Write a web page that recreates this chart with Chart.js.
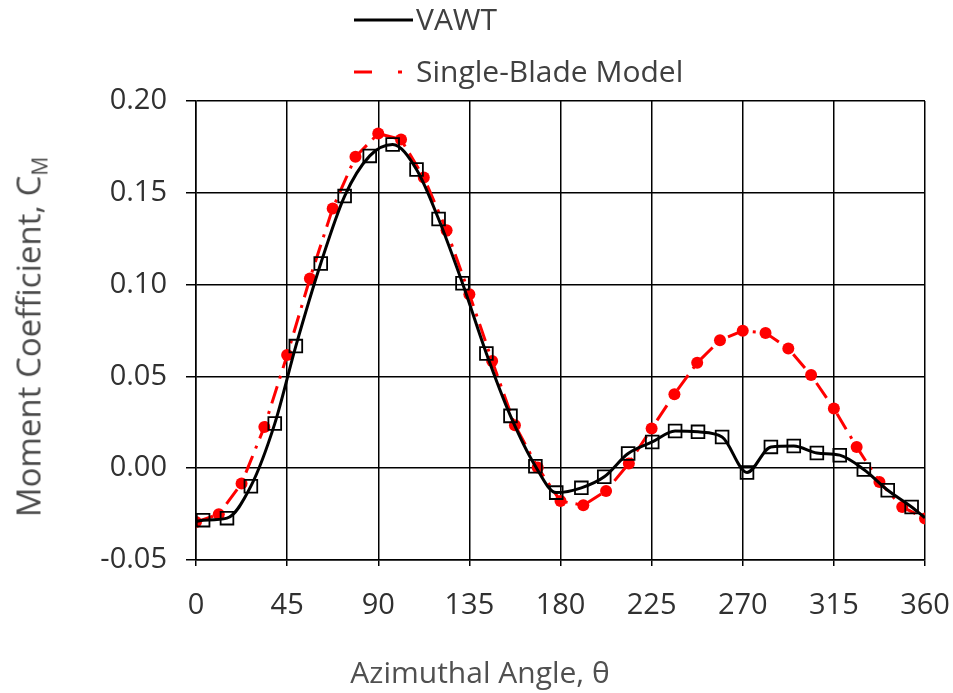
<!DOCTYPE html>
<html>
<head>
<meta charset="utf-8">
<script src="https://cdn.jsdelivr.net/npm/chart.js@4"></script>
<style>
  body { margin: 0; background: #fff; }
  #wrap { position: relative; width: 953px; height: 693px; font-family: "Open Sans", sans-serif; }
  .lbl { position: absolute; white-space: nowrap; line-height: 1; }
  #ytitle { left: 28px; top: 337px; font-size: 33px; color: #4a4a4a; transform: translate(-50%, -50%) rotate(-90deg); }
  #ytitle sub { font-size: 21px; vertical-align: -7px; line-height: 0; }
  #xtitle { left: 480px; top: 672px; font-size: 30px; color: #505050; transform: translate(-50%, -50%); }
  .leg { position: absolute; font-size: 30px; line-height: 1; color: #404040; white-space: nowrap; }
</style>
</head>
<body>
<div id="wrap">
  <canvas id="momentChart" width="953" height="693"></canvas>
  <svg style="position:absolute;left:0;top:0" width="953" height="100">
    <line x1="354" y1="20" x2="413" y2="20" stroke="#000" stroke-width="3"/>
    <line x1="354" y1="72" x2="372" y2="72" stroke="#ff0000" stroke-width="3"/>
    <line x1="398" y1="72" x2="402" y2="72" stroke="#ff0000" stroke-width="3"/>
  </svg>
  <div class="leg" style="left:416px; top:4px;">VAWT</div>
  <div class="leg" style="left:416px; top:56px;">Single-Blade Model</div>
  <div class="lbl" id="ytitle">Moment Coefficient, C<sub>M</sub></div>
  <div class="lbl" id="xtitle">Azimuthal Angle, θ</div>
</div>
<script>
// VAWT (black line, square markers); first and last points are line ends only
const vawtAngles = [0, 3.5, 15.3, 27.1, 38.9, 49.3, 61.6, 73.4, 85.8, 97.1, 108.9, 119.8, 131.6, 143.4, 155.3, 167.6,
    177.9, 190.3, 201.6, 213.4, 225.3, 236.6, 247.9, 259.8, 272.1, 283.9, 295.2, 306.6, 317.9, 329.8, 341.6, 353.4, 360];
const vawtCm = [-0.029, -0.0283, -0.0272, -0.0098, 0.0243, 0.0665, 0.1115, 0.1482, 0.1701, 0.1763, 0.1627, 0.1357, 0.1007,
    0.0625, 0.0285, 0.0011, -0.0133, -0.0107, -0.0047, 0.0080, 0.0143, 0.0203, 0.0198, 0.0170, -0.0023, 0.0116, 0.0121,
    0.0083, 0.0071, -0.0007, -0.0120, -0.0211, -0.027];

// Single-Blade Model (red dash-dot, circles)
const modelAngles = [0, 11.25, 22.5, 33.75, 45, 56.25, 67.5, 78.75, 90, 101.25, 112.5, 123.75, 135, 146.25, 157.5, 168.75,
    180, 191.25, 202.5, 213.75, 225, 236.25, 247.5, 258.75, 270, 281.25, 292.5, 303.75, 315, 326.25, 337.5, 348.75, 360];
const modelCm = [-0.0293, -0.0251, -0.0083, 0.0225, 0.0616, 0.1033, 0.1415, 0.1696, 0.1823, 0.1790, 0.1583, 0.1296, 0.0948,
    0.0584, 0.0234, 0.0004, -0.0179, -0.0202, -0.0124, 0.0026, 0.0216, 0.0403, 0.0574, 0.0697, 0.0748, 0.0737, 0.0652,
    0.0507, 0.0325, 0.0116, -0.0075, -0.0211, -0.0274];

const xTicks = [0, 45, 90, 135, 180, 225, 270, 315, 360];
const yTicks = [-0.05, 0.00, 0.05, 0.10, 0.15, 0.20];

const vawtPoints = vawtAngles.map((a, i) => ({ x: a, y: vawtCm[i] }));
const modelPoints = modelAngles.map((a, i) => ({ x: a, y: modelCm[i] }));
const vawtRadius = vawtAngles.map((a, i) => (i === 0 || i === vawtAngles.length - 1) ? 0 : 9);

const ctx = document.getElementById('momentChart').getContext('2d');
new Chart(ctx, {
    type: 'scatter',
    data: {
        datasets: [{
            label: 'VAWT',
            data: vawtPoints,
            showLine: true,
            borderColor: '#000',
            borderWidth: 3,
            cubicInterpolationMode: 'monotone',
            pointStyle: 'rect',
            pointRadius: vawtRadius,
            pointBorderColor: '#000',
            pointBorderWidth: 1.8,
            pointBackgroundColor: 'rgba(255,255,255,0)'
        }, {
            label: 'Single-Blade Model',
            data: modelPoints,
            showLine: true,
            borderColor: '#ff0000',
            borderWidth: 3,
            borderDash: [18, 8, 3, 8],
            tension: 0,
            pointStyle: 'circle',
            pointRadius: 6,
            pointBorderWidth: 0,
            pointBackgroundColor: '#ff0000'
        }]
    },
    options: {
        responsive: false,
        animation: false,
        devicePixelRatio: 1,
        layout: { padding: { top: 101, right: 28, left: 0, bottom: 0 } },
        scales: {
            x: {
                type: 'linear',
                min: 0,
                max: 360,
                afterBuildTicks: (scale) => { scale.ticks = xTicks.map(v => ({ value: v })); },
                afterFit: (scale) => {
                    scale.height = 133;
                    scale.paddingLeft = 0;
                    scale.paddingRight = 0;
                },
                ticks: {
                    color: '#303030',
                    padding: 22,
                    font: { family: 'Open Sans', size: 29 },
                    maxRotation: 0
                },
                grid: { color: '#000', lineWidth: 1.5, tickLength: 6 },
                border: { color: '#000', width: 1.5 }
            },
            y: {
                min: -0.05,
                max: 0.20,
                afterBuildTicks: (scale) => { scale.ticks = yTicks.map(v => ({ value: v })); },
                afterFit: (scale) => { scale.width = 196; },
                ticks: {
                    color: '#303030',
                    padding: 19,
                    font: { family: 'Open Sans', size: 29 },
                    callback: (v) => v.toFixed(2)
                },
                grid: { color: '#000', lineWidth: 1.5, tickLength: 10 },
                border: { color: '#000', width: 1.5 }
            }
        },
        plugins: {
            legend: { display: false },
            tooltip: { enabled: false }
        }
    }
});
</script>
</body>
</html>
